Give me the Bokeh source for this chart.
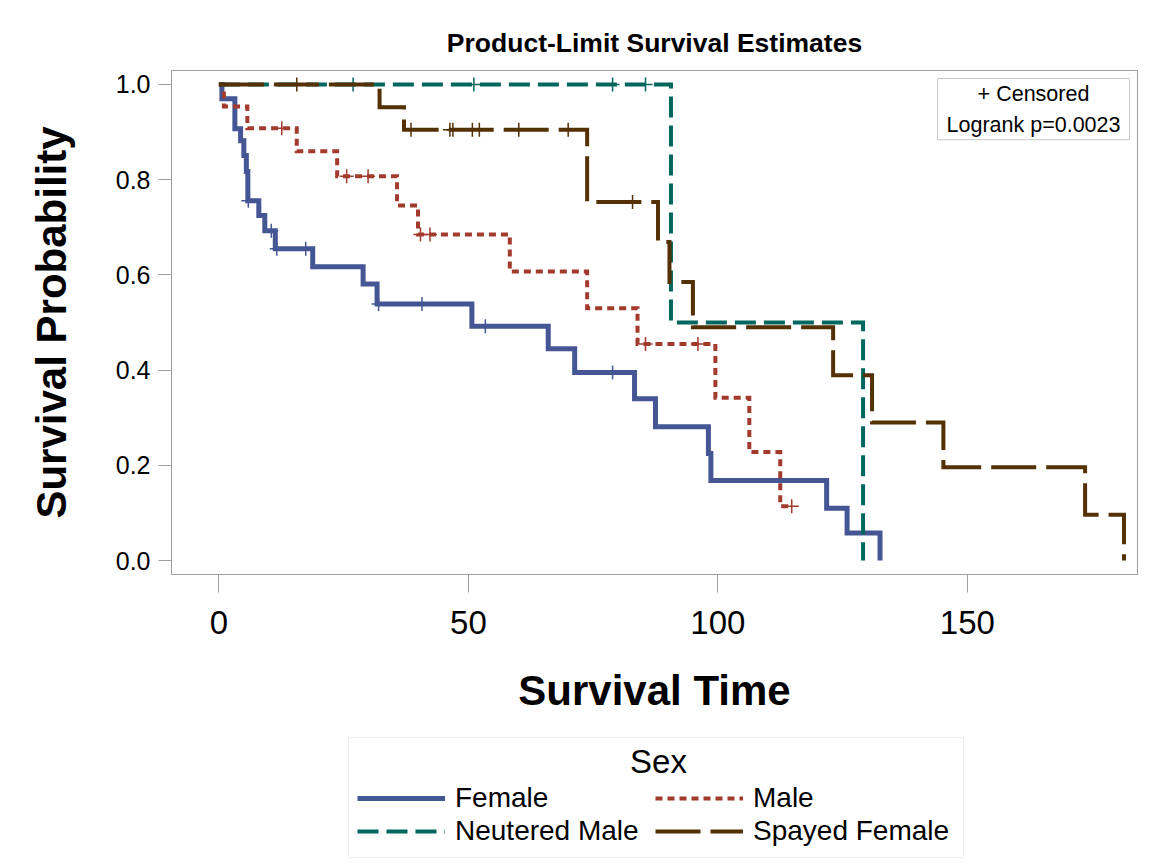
import numpy as np
from bokeh.plotting import figure
from bokeh.layouts import column
from bokeh.models import (Range1d, FixedTicker, NumeralTickFormatter, Legend,
                          LegendItem, Label, BoxAnnotation)
from bokeh.embed import file_html
from bokeh.resources import INLINE

# ---------------- data ----------------
groups = ["Female", "Male", "Neutered Male", "Spayed Female"]

female_time = [0, 0.6, 3.2, 4.35, 5.0, 5.5, 5.8, 8.0, 9.2, 11.3, 18.8, 28.9, 31.7,
               50.7, 66.0, 71.3, 83.3, 87.5, 98.1, 98.6, 121.8, 125.9, 132.5]
female_surv = [1.0, 0.970, 0.907, 0.882, 0.851, 0.817, 0.756, 0.725, 0.693, 0.655,
               0.617, 0.581, 0.539, 0.492, 0.445, 0.395, 0.340, 0.281, 0.225, 0.168,
               0.110, 0.058, 0.0]
female_cens = [5.9, 10.5, 11.6, 17.4, 32.0, 40.7, 53.4, 78.9]

male_time = [0, 1.0, 5.7, 15.6, 23.7, 35.7, 39.9, 58.3, 73.8, 83.9, 99.5, 106.3,
             112.5, 114.8]
male_surv = [1.0, 0.954, 0.908, 0.860, 0.807, 0.746, 0.685, 0.607, 0.530, 0.455,
             0.342, 0.228, 0.114, 0.114]
male_cens = [12.6, 25.6, 29.9, 40.4, 42.3, 85.5, 96.0, 114.8]

neut_time = [0, 90.6, 129.1]
neut_surv = [1.0, 0.50, 0.0]
neut_cens = [26.9, 51.1, 78.9, 85.5]

spay_time = [0, 32.2, 37.1, 73.8, 88.0, 90.3, 95.0, 123.1, 130.9, 145.2, 173.6, 181.4]
spay_surv = [1.0, 0.952, 0.905, 0.753, 0.669, 0.585, 0.490, 0.389, 0.290, 0.196,
             0.096, 0.0]
spay_cens = [15.6, 38.5, 46.3, 46.9, 50.8, 52.2, 60.1, 70.0, 82.9]

x_ticks = [0, 50, 100, 150]
y_ticks = [0.0, 0.2, 0.4, 0.6, 0.8, 1.0]
logrank_text = "Logrank p=0.0023"
legend_title = "Sex"

# ---------------- styles ----------------
colors = ["#445694", "#A23A2E", "#01665E", "#543005"]
dashes = ["solid", "7 5", "21 8", "45 10"]
widths = [5, 4, 4, 4]
FONT = "Liberation Sans"


def surv_at(times, surv, t):
    idx = np.searchsorted(np.asarray(times), np.asarray(t), side="right") - 1
    return np.asarray(surv)[idx]


# ---------------- main plot ----------------
p = figure(width=1156, height=730, output_backend="svg", toolbar_location=None,
           x_range=Range1d(-9.5, 184.1), y_range=Range1d(-0.0294, 1.0294),
           min_border_left=171, min_border_right=19, min_border_top=70,
           min_border_bottom=156)

p.title.text = "Product-Limit Survival Estimates"
p.title.align = "center"
p.title.text_font = FONT
p.title.text_font_size = "26.5px"
p.title.text_font_style = "bold"
p.title.text_color = "black"
p.title.standoff = 25

p.grid.visible = False
p.outline_line_color = "#a0a0a0"
p.background_fill_color = "white"

for ax in (p.xaxis, p.yaxis):
    ax.axis_line_color = "#a0a0a0"
    ax.major_tick_line_color = "#a0a0a0"
    ax.minor_tick_line_color = None
    ax.major_tick_in = 0
    ax.major_label_text_font = FONT
    ax.major_label_text_color = "black"
    ax.axis_label_text_font = FONT
    ax.axis_label_text_font_style = "bold"
    ax.axis_label_text_font_size = "42px"
    ax.axis_label_text_color = "black"

p.xaxis.ticker = FixedTicker(ticks=x_ticks)
p.yaxis.ticker = FixedTicker(ticks=y_ticks)
p.yaxis.formatter = NumeralTickFormatter(format="0.0")
p.xaxis.major_tick_out = 18
p.yaxis.major_tick_out = 13
p.xaxis.major_label_text_font_size = "33px"
p.yaxis.major_label_text_font_size = "25px"
p.xaxis.major_label_standoff = 18
p.yaxis.major_label_standoff = 8
p.xaxis.axis_label = "Survival Time"
p.yaxis.axis_label = "Survival Probability"
p.xaxis.axis_label_standoff = 30
p.yaxis.axis_label_standoff = 38

series = [(female_time, female_surv, female_cens),
          (male_time, male_surv, male_cens),
          (neut_time, neut_surv, neut_cens),
          (spay_time, spay_surv, spay_cens)]

for (tt, ss, cc), col, dash, w in zip(series, colors, dashes, widths):
    p.step(x=tt, y=ss, mode="after", line_color=col, line_width=w,
           line_dash=dash, line_cap="butt", line_join="miter")
    p.scatter(x=cc, y=surv_at(tt, ss, cc), marker="cross", size=14,
              line_color=col, line_width=1.5)

p.add_layout(Label(x=862, y=496, x_units="screen", y_units="screen",
                   text="+ Censored\n" + logrank_text, text_align="center",
                   text_baseline="top", text_font=FONT, text_font_size="21.5px",
                   text_line_height=1.3, text_color="black",
                   border_line_color="#c8c8c8", background_fill_color="white",
                   padding=(9, 3)))

# ---------------- legend panel ----------------
q = figure(width=1156, height=135, output_backend="svg", toolbar_location=None,
           x_axis_type=None, y_axis_type=None,
           x_range=Range1d(0, 1), y_range=Range1d(0, 1),
           min_border_left=171, min_border_right=19, min_border_top=6,
           min_border_bottom=6)
q.grid.visible = False
q.outline_line_color = None

q.add_layout(BoxAnnotation(left=177, right=792, bottom=2, top=122,
                           left_units="screen", right_units="screen",
                           bottom_units="screen", top_units="screen",
                           fill_color=None, fill_alpha=0,
                           line_color="#c8c8c8", line_width=1))

items = []
for name, col, dash, w in zip(groups, colors, dashes, widths):
    r = q.line(x=[np.nan], y=[np.nan], line_color=col, line_width=w,
               line_dash=dash, line_cap="butt")
    items.append(LegendItem(label=name, renderers=[r]))

legend = Legend(items=items, location=(186, 12), orientation="horizontal",
                ncols=2, label_text_font=FONT, label_text_font_size="28px",
                label_text_color="black",
                glyph_width=88, glyph_height=26, label_height=26,
                label_width=199, label_standoff=10, spacing=1, padding=0,
                margin=0, border_line_color=None, background_fill_color=None)
q.add_layout(legend)

q.add_layout(Label(x=487, y=98, x_units="screen", y_units="screen",
                   text=legend_title, text_align="center",
                   text_baseline="middle", text_font=FONT,
                   text_font_size="33px", text_color="black"))

layout = column(p, q, spacing=0)
open("out.html", "w").write(file_html(layout, INLINE))
